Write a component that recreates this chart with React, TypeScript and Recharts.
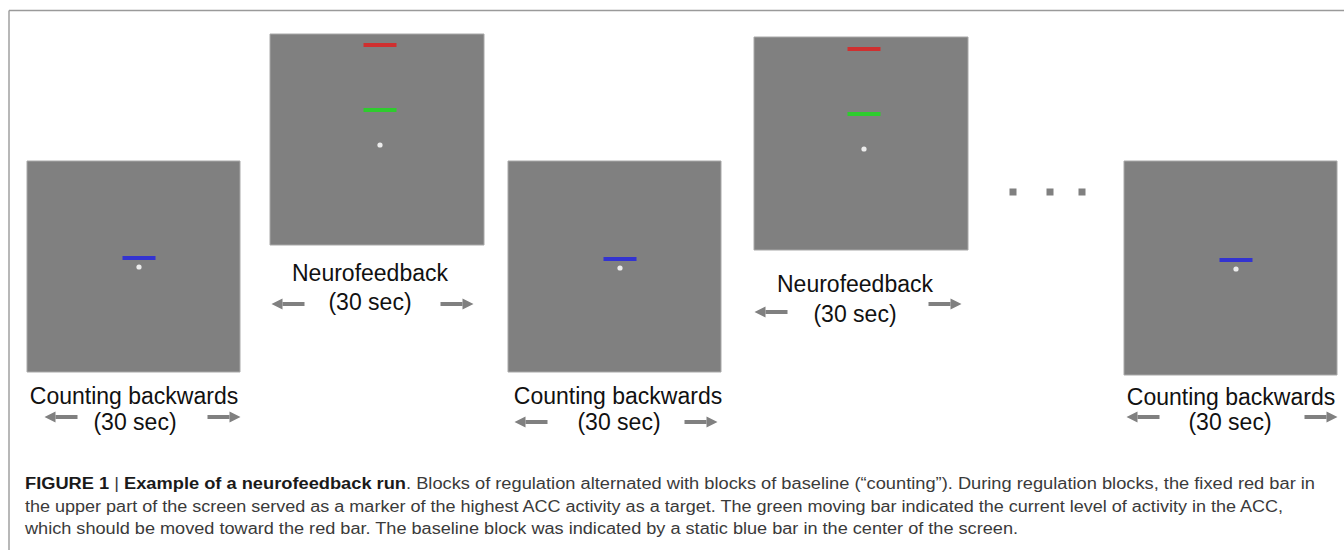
import React from "react";
import { ScatterChart, Scatter, XAxis, YAxis, ReferenceArea, ReferenceLine } from "recharts";

const W = 1344;
const H = 550;

// Blocks of the run (left to right)
const blockLabels = ["Counting backwards", "Neurofeedback", "Counting backwards", "Neurofeedback", "Counting backwards"];
const durationLabel = "(30 sec)";
const panelLeft = [27, 270, 508, 754, 1124];
const panelRight = [240, 484, 721, 968, 1337];
const panelTop = [161, 34, 161, 37, 161];
const panelBottom = [372, 245, 372, 250, 375];

// Screen content
const markerX = [139, 380, 620, 864, 1236];
const redBarY: (number | null)[] = [null, 45, null, 49, null];
const greenBarY: (number | null)[] = [null, 110, null, 114, null];
const blueBarY: (number | null)[] = [258, null, 259, null, 260];
const fixationY = [267, 145, 268, 149, 269];

// Labels
const titleX = [134, 370, 618, 855, 1231];
const titleY = [404, 281, 404, 292, 405];
const durationX = [135, 370, 619, 855, 1230];
const durationY = [430, 310, 430, 322, 430];

// Arrows (centres)
const leftArrowX = [61, 288, 531, 771, 1143];
const leftArrowY = [417, 304, 422, 312, 417];
const rightArrowX = [224, 457, 701, 945, 1321];
const rightArrowY = [417, 304, 422, 304, 417];

// Ellipsis
const ellipsisX = [1013, 1050, 1082];
const ellipsisY = [192, 192, 192];

// Caption
const captionLines = [
  [
    { t: "FIGURE 1", b: true },
    { t: " | ", b: false },
    { t: "Example of a neurofeedback run", b: true },
    { t: ". Blocks of regulation alternated with blocks of baseline (\u201Ccounting\u201D). During regulation blocks, the fixed red bar in", b: false },
  ],
  [{ t: "the upper part of the screen served as a marker of the highest ACC activity as a target. The green moving bar indicated the current level of activity in the ACC,", b: false }],
  [{ t: "which should be moved toward the red bar. The baseline block was indicated by a static blue bar in the center of the screen.", b: false }],
];
const captionX = [25, 25, 25];
const captionY = [489, 512, 534];
const captionWidths = [1290, 1258, 993];

const GRAY = "#808080";

const fixationData = markerX.map((x, i) => ({ x, y: fixationY[i] }));
const ellipsisData = ellipsisX.map((x, i) => ({ x, y: ellipsisY[i] }));
const titleData = titleX.map((x, i) => ({ x, y: titleY[i], label: blockLabels[i] }));
const durationData = durationX.map((x, i) => ({ x, y: durationY[i], label: durationLabel }));
const leftArrowData = leftArrowX.map((x, i) => ({ x, y: leftArrowY[i] }));
const rightArrowData = rightArrowX.map((x, i) => ({ x, y: rightArrowY[i] }));
const captionData = captionX.map((x, i) => ({ x, y: captionY[i], line: i }));

const Dot = (p: any) => <circle cx={p.cx} cy={p.cy} r={2.6} fill="#ececec" />;
const Square = (p: any) => <rect x={p.cx - 3.5} y={p.cy - 3.5} width={7} height={7} fill={GRAY} />;
const Title = (p: any) => (
  <text x={p.cx} y={p.cy} textAnchor="middle" fontFamily="'Liberation Sans', Arial, sans-serif" fontSize={23} fill="#111">
    {p.payload.label}
  </text>
);
const makeArrow = (dir: number) => (p: any) => {
  const L = 33;
  const tip = p.cx + (dir * L) / 2;
  const tail = p.cx - (dir * L) / 2;
  const headBase = tip - dir * 11;
  const cy = p.cy;
  return (
    <g>
      <rect x={Math.min(tail, headBase)} y={cy - 2} width={Math.abs(headBase - tail)} height={4} fill={GRAY} />
      <polygon points={`${tip},${cy} ${headBase},${cy - 5.5} ${headBase},${cy + 5.5}`} fill={GRAY} />
    </g>
  );
};
const Caption = (p: any) => {
  const i = p.payload.line;
  return (
    <text
      x={p.cx}
      y={p.cy}
      fontFamily="'Liberation Sans', Arial, sans-serif"
      fontSize={16}
      fill="#3a3a3a"
      textLength={captionWidths[i]}
      lengthAdjust="spacingAndGlyphs"
    >
      {captionLines[i].map((s, k) => (
        <tspan key={k} fontWeight={s.b ? 700 : 400} fill={s.b ? "#1a1a1a" : "#3a3a3a"}>
          {s.t}
        </tspan>
      ))}
    </text>
  );
};

export default function App() {
  return (
    <div style={{ position: "absolute", left: 0, top: 0, width: W, height: H, background: "#fff" }}>
      <ScatterChart width={W} height={H} margin={{ top: 0, right: 0, bottom: 0, left: 0 }}>
        <XAxis type="number" dataKey="x" domain={[0, W]} hide allowDataOverflow />
        <YAxis type="number" dataKey="y" domain={[0, H]} reversed hide allowDataOverflow />
        <ReferenceLine segment={[{ x: 9, y: 10.5 }, { x: W, y: 10.5 }]} stroke="#9a9a9a" strokeWidth={1.4} />
        <ReferenceLine segment={[{ x: 9, y: 10.5 }, { x: 9, y: H }]} stroke="#9a9a9a" strokeWidth={1.4} />
        {panelLeft.map((x1, i) => (
          <ReferenceArea key={"p" + i} x1={x1} x2={panelRight[i]} y1={panelTop[i]} y2={panelBottom[i]} fill={GRAY} fillOpacity={1} stroke="#a8a8a8" strokeWidth={1} />
        ))}
        {markerX.map((x, i) =>
          redBarY[i] != null ? (
            <ReferenceLine key={"r" + i} segment={[{ x: x - 16.5, y: redBarY[i] as number }, { x: x + 16.5, y: redBarY[i] as number }]} stroke="#cf3030" strokeWidth={4} />
          ) : null
        )}
        {markerX.map((x, i) =>
          greenBarY[i] != null ? (
            <ReferenceLine key={"g" + i} segment={[{ x: x - 16.5, y: greenBarY[i] as number }, { x: x + 16.5, y: greenBarY[i] as number }]} stroke="#2ecc2e" strokeWidth={4} />
          ) : null
        )}
        {markerX.map((x, i) =>
          blueBarY[i] != null ? (
            <ReferenceLine key={"b" + i} segment={[{ x: x - 16.5, y: blueBarY[i] as number }, { x: x + 16.5, y: blueBarY[i] as number }]} stroke="#3333d0" strokeWidth={4} />
          ) : null
        )}
        <Scatter data={fixationData} shape={Dot} isAnimationActive={false} />
        <Scatter data={ellipsisData} shape={Square} isAnimationActive={false} />
        <Scatter data={titleData} shape={Title} isAnimationActive={false} />
        <Scatter data={durationData} shape={Title} isAnimationActive={false} />
        <Scatter data={leftArrowData} shape={makeArrow(-1)} isAnimationActive={false} />
        <Scatter data={rightArrowData} shape={makeArrow(1)} isAnimationActive={false} />
        <Scatter data={captionData} shape={Caption} isAnimationActive={false} />
      </ScatterChart>
    </div>
  );
}
